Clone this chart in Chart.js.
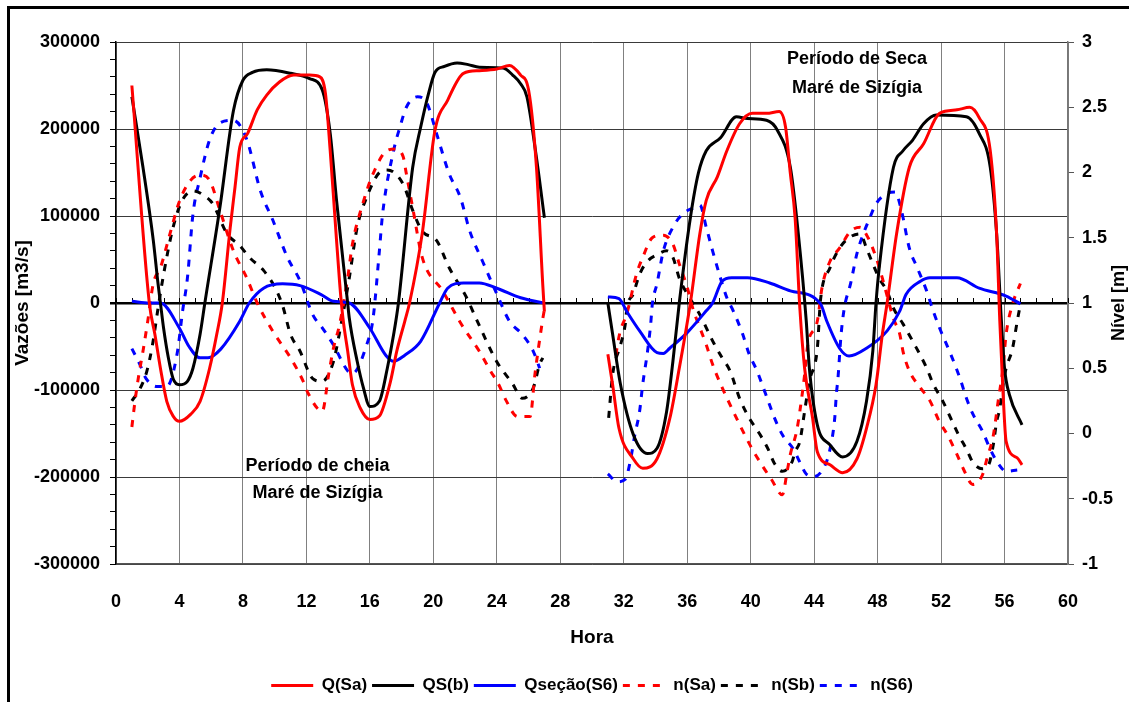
<!DOCTYPE html>
<html lang="pt">
<head>
<meta charset="UTF-8">
<title>Vazões e níveis - período de cheia e de seca</title>
<style>
    html, body { margin: 0; padding: 0; background: #fff; }
    #quadro { position: relative; width: 1129px; height: 702px; overflow: hidden; }
    /* moldura preta do gráfico (só aparecem o topo e a esquerda) */
    #moldura { position: absolute; left: 7px; top: 6px; right: -10px; bottom: -10px;
               border-left: 3px solid #000; border-top: 3px solid #000; pointer-events: none; }
</style>
</head>
<body>
<div id="quadro">
    <canvas id="grafico" width="1129" height="702"></canvas>
    <div id="moldura"></div>
</div>
<script src="https://cdn.jsdelivr.net/npm/chart.js"></script>
<script>
// ---- dados: [hora, valor]; null separa cheia (1-27 h) e seca (31-57 h)
const qSa = [
    [1, 250000], [2.1, 0], [2.45, -36000], [2.8, -75000], [3.2, -113000], [3.6, -130000], [4, -136000],
    [4.7, -128000], [5.3, -113000], [5.9, -75000], [6.35, -36000], [6.7, 0], [7.2, 87000], [7.5, 133000],
    [7.8, 179000], [8.3, 195000], [8.9, 222000], [9.5, 239000], [10.3, 254000], [11.2, 262000],
    [12.2, 262000], [12.85, 260000], [13.2, 241000], [13.5, 175000], [13.8, 98000], [14.1, 22000],
    [14.3, -17000], [14.6, -55000], [14.9, -94000], [15.4, -121000], [16, -134000], [16.6, -130000],
    [17.3, -90000], [17.7, -55000], [18.2, -21000], [18.5, 0], [19.3, 80000], [20.1, 198000],
    [20.9, 233000], [21.9, 264000], [22.9, 267000], [24, 269000], [24.8, 273000], [25.5, 262000],
    [26, 245000], [26.5, 156000], [26.9, 20000], [27, -10000],
    null,
    [31, -59000], [31.3, -94000], [31.7, -144000], [32.6, -179000], [33.2, -190000], [34.1, -179000],
    [34.9, -133000], [35.5, -75000], [36.2, 0], [36.8, 80000], [37.2, 118000], [37.9, 145000],
    [38.5, 175000], [39.3, 206000], [40.1, 218000], [41, 218000], [41.8, 220000], [42.2, 202000],
    [42.5, 149000], [42.8, 98000], [43.1, -6000], [43.4, -75000], [43.9, -132000], [44.2, -171000],
    [45, -186000], [45.8, -195000], [46.7, -179000], [47.3, -144000], [47.9, -94000], [48.3, -36000],
    [48.6, 0], [49.2, 80000], [50, 156000], [50.9, 183000], [51.9, 218000], [53, 222000],
    [53.8, 225000], [54.4, 213000], [55.1, 175000], [55.5, 80000], [55.7, -20000], [55.9, -101000],
    [56.1, -159000], [56.8, -178000], [57.1, -186000]
];
const qSb = [
    [1, 237000], [1.7, 156000], [2.35, 72000], [2.65, 22000], [2.8, 0], [3, -29000], [3.3, -63000],
    [3.6, -87000], [4, -94000], [4.5, -90000], [4.85, -75000], [5.3, -36000], [5.6, 0], [6.55, 110000],
    [7.4, 221000], [8, 256000], [8.6, 265000], [9.5, 268000], [11, 264000], [12.2, 258000],
    [13, 245000], [13.5, 195000], [13.9, 118000], [14.6, 0], [14.7, -17000], [15.2, -67000],
    [15.6, -98000], [16, -119000], [16.6, -113000], [17.1, -75000], [17.5, -36000], [17.8, 0],
    [18.7, 156000], [19.2, 202000], [19.7, 241000], [20.1, 265000], [20.7, 272000], [21.5, 276000],
    [22.2, 274000], [22.9, 271000], [24.4, 270000], [25, 262000], [25.5, 252000], [25.9, 237000],
    [26.5, 167000], [27, 98000],
    null,
    [31, 0], [31.3, -36000], [31.8, -94000], [32.6, -151000], [33.5, -173000], [34.1, -167000],
    [34.7, -125000], [35.1, -67000], [35.5, 0], [36.2, 98000], [36.7, 149000], [37.2, 175000],
    [38.1, 190000], [39.1, 214000], [39.8, 212000], [41, 210000], [41.7, 198000], [42.5, 156000],
    [43, 80000], [43.5, -20000], [43.7, -75000], [44.2, -140000], [45, -163000], [45.8, -177000],
    [46.7, -159000], [47.3, -113000], [47.7, -55000], [47.9, 0], [48.1, 40000], [49, 156000],
    [49.6, 175000], [50.2, 187000], [50.9, 206000], [51.7, 216000], [53.6, 214000], [54.4, 195000],
    [55.1, 156000], [55.5, 80000], [55.8, -20000], [56, -75000], [56.3, -105000], [57.1, -140000]
];
const qS6 = [
    [1, 2000], [2.1, 0], [2.8, 0], [4, -29000], [4.6, -50000], [5.3, -63000], [5.8, -63000],
    [6.6, -53000], [7.8, -21000], [8.4, 0], [9.3, 17000], [10.5, 22000], [11.6, 20000], [12.9, 10000],
    [13.7, 2000], [14.7, 0], [16, -29000], [17, -60000], [17.5, -67000], [18.2, -60000],
    [19.2, -44000], [20.4, 0], [20.9, 17000], [21.9, 23000], [22.9, 23000], [24, 17000],
    [25.5, 6000], [27, 0],
    null,
    [31, 7000], [31.7, 5000], [32.2, -10000], [33, -32000], [34.1, -57000], [34.5, -58000],
    [34.9, -52000], [36, -34000], [37.2, -9000], [37.6, 0], [38.2, 25000], [38.8, 29000],
    [39.8, 29000], [41.2, 23000], [42.5, 14000], [44.4, -1000], [44.8, -21000], [45.6, -52000],
    [46.2, -61000], [47.3, -52000], [48.6, -32000], [49.4, -9000], [49.8, 10000], [50.7, 25000],
    [51.3, 29000], [53, 29000], [54.4, 17000], [56.1, 8000], [57, -1000]
];
const nSa = [
    [1, 0.05], [1.2, 0.25], [1.4, 0.42], [1.7, 0.63], [2, 0.86], [2.35, 1.15], [2.8, 1.27], [3.4, 1.53],
    [4, 1.78], [4.7, 1.94], [5.3, 1.98], [5.9, 1.94], [6.55, 1.71], [7.4, 1.40], [8.25, 1.19],
    [8.9, 1.0], [9.9, 0.78], [11, 0.58], [11.8, 0.40], [12.1, 0.31], [13, 0.17], [13.4, 0.45],
    [13.7, 0.65], [14.1, 0.84], [14.6, 1.19], [14.9, 1.45], [15.6, 1.78], [16.2, 1.99], [17.1, 2.17],
    [17.6, 2.18], [18.1, 2.12], [18.3, 1.99], [18.7, 1.73], [19.3, 1.35], [20.6, 1.09], [21.2, 0.96],
    [21.7, 0.85], [22.9, 0.63], [23.6, 0.48], [24.1, 0.38], [24.6, 0.25], [25.3, 0.13], [26.1, 0.13],
    [26.4, 0.45], [26.9, 0.88], [27, 0.95],
    null,
    [31.5, 0.6], [31.75, 0.77], [32.2, 0.92], [32.8, 1.22], [33.2, 1.35], [33.8, 1.5], [34.5, 1.52],
    [35.1, 1.45], [35.5, 1.3], [36, 1.12], [36.4, 0.94], [36.8, 0.81], [37.2, 0.68], [37.6, 0.53],
    [38.1, 0.38], [38.9, 0.17], [39.5, 0.02], [40.1, -0.12], [40.7, -0.24], [41.3, -0.35], [42, -0.47],
    [42.3, -0.29], [42.5, -0.16], [42.9, 0.02], [43.1, 0.17], [43.4, 0.45], [43.6, 0.68], [44.2, 0.86],
    [44.5, 1.12], [45, 1.32], [45.6, 1.42], [46.3, 1.55], [46.9, 1.58], [47.4, 1.5], [47.9, 1.35],
    [48.3, 1.19], [49, 0.88], [49.4, 0.76], [49.6, 0.63], [50, 0.48], [50.7, 0.35], [51.3, 0.25],
    [51.9, 0.09], [52.4, -0.01], [53, -0.16], [53.4, -0.27], [54, -0.39], [54.6, -0.32], [54.9, -0.19],
    [55.3, -0.01], [55.6, 0.25], [55.9, 0.5], [56.1, 0.76], [56.5, 0.99], [57, 1.15]
];
const nSb = [
    [1, 0.25], [1.5, 0.34], [1.95, 0.48], [2.3, 0.68], [2.65, 0.96], [3, 1.22], [3.6, 1.58],
    [4.15, 1.78], [4.85, 1.86], [5.7, 1.81], [6.1, 1.76], [7, 1.53], [7.8, 1.44], [8.4, 1.35],
    [9.3, 1.25], [10.1, 1.1], [10.5, 0.98], [11, 0.76], [11.6, 0.63], [12.4, 0.42], [13, 0.40],
    [13.7, 0.55], [14.1, 0.78], [14.7, 1.19], [15.2, 1.58], [15.8, 1.81], [16.6, 2.0], [17.1, 2.02],
    [18.1, 1.91], [18.7, 1.71], [19.3, 1.55], [20.2, 1.48], [21, 1.27], [22.1, 1.04], [22.7, 0.88],
    [24, 0.55], [25, 0.38], [25.6, 0.27], [26.3, 0.35], [26.7, 0.53], [26.9, 0.58],
    null,
    [31.05, 0.12], [31.3, 0.45], [31.8, 0.68], [32.1, 0.84], [32.2, 0.96], [32.6, 1.07], [33, 1.22],
    [33.5, 1.32], [34.1, 1.37], [34.7, 1.40], [35.1, 1.35], [35.5, 1.19], [36, 1.07], [36.8, 0.91],
    [37.6, 0.71], [38.2, 0.58], [38.7, 0.48], [39.3, 0.27], [39.9, 0.12], [40.6, -0.01], [41.1, -0.12],
    [41.5, -0.23], [42, -0.29], [42.6, -0.22], [42.8, -0.14], [43.1, -0.06], [43.4, 0.17], [43.7, 0.4],
    [44.2, 0.65], [44.4, 1.02], [45, 1.27], [45.6, 1.42], [46.2, 1.5], [46.9, 1.53], [47.3, 1.42],
    [47.7, 1.3], [48.1, 1.19], [48.6, 1.09], [49, 0.96], [49.6, 0.84], [50.2, 0.71], [51.1, 0.5],
    [51.5, 0.38], [52.1, 0.25], [52.6, 0.12], [53.1, -0.01], [53.6, -0.12], [54, -0.22], [54.6, -0.27],
    [55, -0.24], [55.3, -0.08], [55.5, 0.09], [55.7, 0.19], [55.9, 0.38], [56.1, 0.5], [56.5, 0.65],
    [56.8, 0.86], [57, 0.99]
];
const nS6 = [
    [1, 0.65], [1.5, 0.53], [1.9, 0.42], [2.6, 0.36], [3.2, 0.36], [3.85, 0.61], [4.2, 0.94],
    [4.5, 1.19], [4.85, 1.68], [5.3, 1.96], [5.9, 2.25], [6.55, 2.38], [7.4, 2.40], [8.25, 2.25],
    [9.1, 1.86], [9.9, 1.63], [10.8, 1.35], [11.6, 1.17], [12.4, 0.91], [13, 0.81], [13.7, 0.68],
    [14.6, 0.48], [14.9, 0.46], [15.8, 0.68], [16.2, 0.88], [16.6, 1.4], [16.8, 1.68], [17.5, 2.17],
    [17.9, 2.35], [18.3, 2.5], [19, 2.58], [19.6, 2.53], [20.2, 2.3], [21, 1.99], [21.7, 1.81],
    [22.3, 1.55], [23.1, 1.32], [24, 1.07], [24.8, 0.86], [25.6, 0.76], [26.3, 0.63], [26.7, 0.5],
    null,
    [31, -0.31], [31.6, -0.37], [32.1, -0.35], [32.4, -0.22], [32.7, -0.01], [33, 0.17], [33.2, 0.38],
    [33.5, 0.63], [33.7, 0.84], [33.8, 0.99], [34.1, 1.15], [34.5, 1.4], [35.1, 1.58], [35.7, 1.68],
    [36.4, 1.73], [36.8, 1.75], [37.2, 1.58], [37.6, 1.4], [38.1, 1.19], [38.5, 1.04], [38.9, 0.94],
    [39.5, 0.76], [39.9, 0.61], [40.4, 0.48], [40.8, 0.35], [41.1, 0.25], [41.5, 0.12], [42, -0.01],
    [42.7, -0.12], [43.1, -0.22], [43.5, -0.31], [44, -0.33], [44.7, -0.24], [45, -0.12], [45.3, 0.12],
    [45.4, 0.3], [45.5, 0.42], [45.7, 0.76], [45.9, 0.96], [46.3, 1.15], [46.7, 1.38], [47.1, 1.53],
    [47.5, 1.65], [47.9, 1.76], [48.6, 1.84], [49.1, 1.85], [49.5, 1.71], [50, 1.42], [50.5, 1.27],
    [51.1, 1.09], [51.5, 0.94], [51.9, 0.81], [52.6, 0.61], [53.2, 0.42], [53.6, 0.27], [54, 0.15],
    [54.6, 0.02], [55.1, -0.12], [55.6, -0.23], [56.1, -0.29], [56.8, -0.28]
];

const fonte = '"Liberation Sans Narrow", "Liberation Sans", Arial, sans-serif';

// converte [hora, valor] em pontos; null vira um buraco na linha
function pontos(serie) {
    return serie.map(p => p ? { x: p[0], y: p[1] } : { x: 29, y: null });
}

function serie(rotulo, dados, cor, eixo, tracejado) {
    return {
        label: rotulo,
        data: pontos(dados),
        borderColor: cor,
        backgroundColor: cor,
        borderWidth: 3,
        borderDash: tracejado ? [7, 8] : [],
        yAxisID: eixo,
        pointRadius: 0,
        cubicInterpolationMode: 'monotone',
        spanGaps: false
    };
}

// textos soltos no gráfico, pequenos traços na linha do zero e título do eixo direito
const extras = {
    id: 'extras',
    beforeDatasetsDraw(chart) {
        const { ctx, scales: { x, y } } = chart;
        const y0 = y.getPixelForValue(0);
        ctx.save();
        ctx.strokeStyle = '#000';
        ctx.lineWidth = 1;
        for (let h = 0; h <= 60; h++) {
            const px = Math.round(x.getPixelForValue(h)) + 0.5;
            ctx.beginPath();
            ctx.moveTo(px, y0);
            ctx.lineTo(px, y0 - 5);
            ctx.stroke();
        }
        ctx.restore();
    },
    afterDatasetsDraw(chart) {
        const { ctx, scales: { x, y }, chartArea } = chart;
        ctx.save();
        ctx.fillStyle = '#000';
        ctx.font = 'bold 18px ' + fonte;
        ctx.textAlign = 'center';
        ctx.textBaseline = 'middle';
        ctx.fillText('Período de cheia', x.getPixelForValue(12.7), y.getPixelForValue(-187000));
        ctx.fillText('Maré de Sizígia', x.getPixelForValue(12.7), y.getPixelForValue(-219000));
        ctx.fillText('Período de Seca', x.getPixelForValue(46.7), y.getPixelForValue(280000));
        ctx.fillText('Maré de Sizígia', x.getPixelForValue(46.7), y.getPixelForValue(247000));

        ctx.font = 'bold 18px ' + fonte;
        ctx.translate(chart.width - 10, (chartArea.top + chartArea.bottom) / 2);
        ctx.rotate(-Math.PI / 2);
        ctx.fillText('Nível [m]', 0, 0);
        ctx.restore();
    }
};

new Chart(document.getElementById('grafico'), {
    type: 'line',
    data: {
        datasets: [
            serie('Q(Sa)', qSa, '#ff0000', 'y', false),
            serie('QS(b)', qSb, '#000000', 'y', false),
            serie('Qseção(S6)', qS6, '#0000ff', 'y', false),
            serie('n(Sa)', nSa, '#ff0000', 'y1', true),
            serie('n(Sb)', nSb, '#000000', 'y1', true),
            serie('n(S6)', nS6, '#0000ff', 'y1', true)
        ]
    },
    options: {
        responsive: false,
        animation: false,
        devicePixelRatio: 1,
        layout: { padding: { top: 42, bottom: -2, left: 0, right: 0 } },
        plugins: {
            legend: {
                position: 'bottom',
                fullSize: false,
                labels: {
                    usePointStyle: true,
                    pointStyle: 'line',
                    pointStyleWidth: 42,
                    padding: 5,
                    color: '#000',
                    font: { family: fonte, size: 17, weight: 'bold' },
                    // o traço da legenda segue o tracejado de cada série
                    generateLabels: chart => Chart.defaults.plugins.legend.labels.generateLabels(chart).map(item => {
                        const ds = chart.data.datasets[item.datasetIndex];
                        item.lineDash = ds.borderDash;
                        item.lineWidth = 3;
                        item.strokeStyle = ds.borderColor;
                        return item;
                    })
                }
            },
            tooltip: { enabled: false }
        },
        scales: {
            x: {
                type: 'linear',
                min: 0,
                max: 60,
                ticks: { stepSize: 4, padding: 27, color: '#000', font: { family: fonte, size: 18, weight: 'bold' } },
                grid: { color: '#808080', drawTicks: false },
                border: { color: '#555', width: 1.5 },
                title: { display: true, text: 'Hora', color: '#000', padding: { bottom: 23 },
                         font: { family: fonte, size: 19, weight: 'bold' } },
                afterFit: s => { s.height = 108; }
            },
            y: {
                position: 'left',
                min: -300000,
                max: 300000,
                ticks: {
                    stepSize: 20000,
                    autoSkip: false,
                    padding: 10,
                    color: '#000',
                    font: { family: fonte, size: 18, weight: 'bold' },
                    callback: v => (v % 100000 === 0 ? String(v) : '')
                },
                grid: {
                    color: c => c.tick && c.tick.value === 0 ? '#000' :
                        (c.tick && c.tick.value % 100000 === 0 ? '#3a3a3a' : 'rgba(0,0,0,0)'),
                    lineWidth: c => (c.tick && c.tick.value === 0 ? 2.5 : 1),
                    tickColor: '#000',
                    tickLength: 6
                },
                border: { color: '#000', width: 1.5 },
                title: { display: true, text: 'Vazões [m3/s]', color: '#000', padding: { top: 11 },
                         font: { family: fonte, size: 19, weight: 'bold' } },
                afterFit: s => { s.width = 116; }
            },
            y1: {
                position: 'right',
                min: -1,
                max: 3,
                ticks: { stepSize: 0.5, padding: 8, color: '#000', font: { family: fonte, size: 18, weight: 'bold' },
                         callback: v => String(v) },
                grid: { drawOnChartArea: false, tickColor: '#555', tickLength: 6 },
                border: { color: '#777', width: 1.5 },
                afterFit: s => { s.width = 61; }
            }
        }
    },
    plugins: [extras]
});
</script>
</body>
</html>
